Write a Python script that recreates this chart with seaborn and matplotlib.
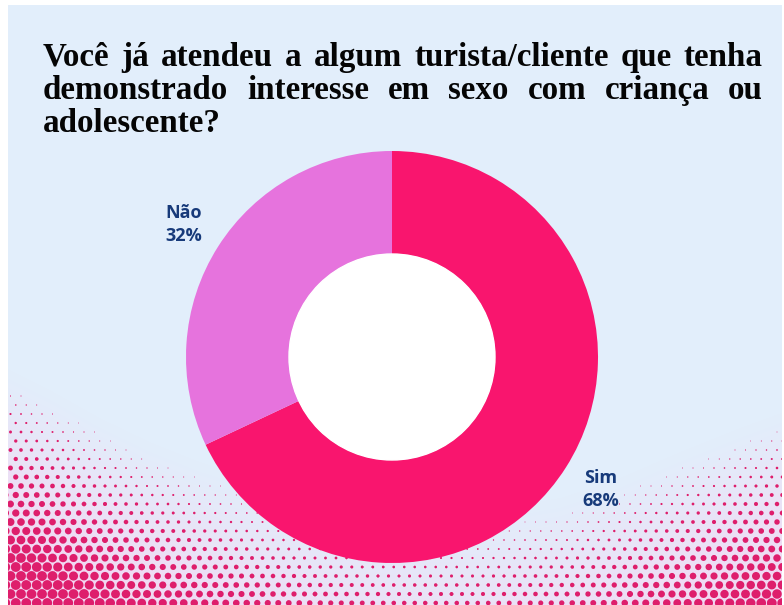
import numpy as np
import matplotlib
matplotlib.use("Agg")
import matplotlib.pyplot as plt
import seaborn as sns

# Survey answers
categories = ["Sim", "Não"]
shares = [68, 32]
slice_colors = ["#f9156e", "#e673dd"]
label_color = "#173a7a"
title_lines = [
    "Você já atendeu a algum turista/cliente que tenha",
    "demonstrado interesse em sexo com criança ou",
    "adolescente?",
]

W, H, DPI = 784, 605, 100

sns.set_theme(style="white")
plt.rcParams["font.family"] = ["DejaVu Sans"]
palette = sns.color_palette(slice_colors)

fig = plt.figure(figsize=(W / DPI, H / DPI), dpi=DPI, facecolor="white")

# ---- backdrop: pale blue card with pink halftone wave at the bottom ----
bg = np.array([0xE2, 0xEE, 0xFB]) / 255.0
tint = np.array([0xFA, 0xCC, 0xEE]) / 255.0
dot = np.array([0xDE, 0x1E, 0x6C]) / 255.0

yy, xx = np.mgrid[0:H, 0:W].astype(float) + 0.5


def wave_top(x):
    return np.interp(
        x,
        [0, 50, 100, 150, 200, 250, 320, 400, 480, 560, 620, 680, 740, 784],
        [365, 390, 418, 442, 462, 478, 498, 512, 512, 498, 478, 452, 428, 412],
    )


def strength(px, py):
    depth = py - wave_top(px)
    return np.clip(depth / 185.0, 0, 1) ** 1.1


dx, dy = 10.5, 9.0
cov = np.zeros_like(xx)
r0 = np.floor(yy / dy)
for dr in (0, 1):
    r = r0 + dr
    cy = r * dy
    off = (r % 2) * dx / 2
    cx = np.round((xx - off) / dx) * dx + off
    dist = np.hypot(xx - cx, yy - cy)
    rad = 4.9 * strength(cx, cy)
    cov = np.maximum(cov, np.where(rad > 0.35, np.clip(rad - dist + 0.5, 0, 1), 0))

s = strength(xx, yy)[..., None] * 0.75
base = bg * (1 - s) + tint * s
img = base * (1 - cov[..., None]) + dot * cov[..., None]
outside = (xx < 8) | (yy < 5) | (xx > 782)
img[outside] = 1.0

bg_ax = fig.add_axes([0, 0, 1, 1], zorder=0)
bg_ax.imshow(img, extent=(0, W, H, 0), interpolation="bilinear", aspect="auto")
bg_ax.set_xlim(0, W)
bg_ax.set_ylim(H, 0)
bg_ax.axis("off")

# ---- donut ----
cx_px, cy_px, R = 392, 357, 206
ax = fig.add_axes([(cx_px - R) / W, (H - cy_px - R) / H, 2 * R / W, 2 * R / H], zorder=2)
ax.patch.set_alpha(0)
wedges, _ = ax.pie(
    shares,
    colors=palette,
    startangle=90,
    counterclock=False,
    radius=1,
    wedgeprops=dict(width=0.5, linewidth=0),
)
ax.add_patch(plt.Circle((0, 0), 0.5, color="white", zorder=3))
ax.set_xlim(-1, 1)
ax.set_ylim(-1, 1)
ax.set_aspect("equal")
ax.axis("off")

start = 90.0
for cat, val in zip(categories, shares):
    span = 360.0 * val / sum(shares)
    mid = np.deg2rad(start - span / 2)
    start -= span
    ax.text(
        1.2 * np.cos(mid), 1.2 * np.sin(mid), f"{cat}\n{val}%",
        ha="center", va="center", fontsize=13, fontweight="bold",
        family=["Open Sans", "DejaVu Sans"], color=label_color,
        linespacing=1.35, clip_on=False,
    )

# ---- justified title ----
title_kw = dict(family=["Liberation Serif"], fontweight="bold", fontsize=23.8,
                color="#050505", va="baseline", ha="left")
renderer = fig.canvas.get_renderer()
left, right = 43, 763
baselines = [66, 99, 132]
for i, (line, base_y) in enumerate(zip(title_lines, baselines)):
    words = line.split()
    y = 1 - base_y / H
    texts = [fig.text(0, y, w, **title_kw) for w in words]
    widths = [t.get_window_extent(renderer).width for t in texts]
    last = i == len(title_lines) - 1
    gap = 8 if (last or len(words) == 1) else (right - left - sum(widths)) / (len(words) - 1)
    x = left
    for t, w in zip(texts, widths):
        t.set_x(x / W)
        x += w + gap

fig.savefig("out.png", dpi=DPI, facecolor="white")
